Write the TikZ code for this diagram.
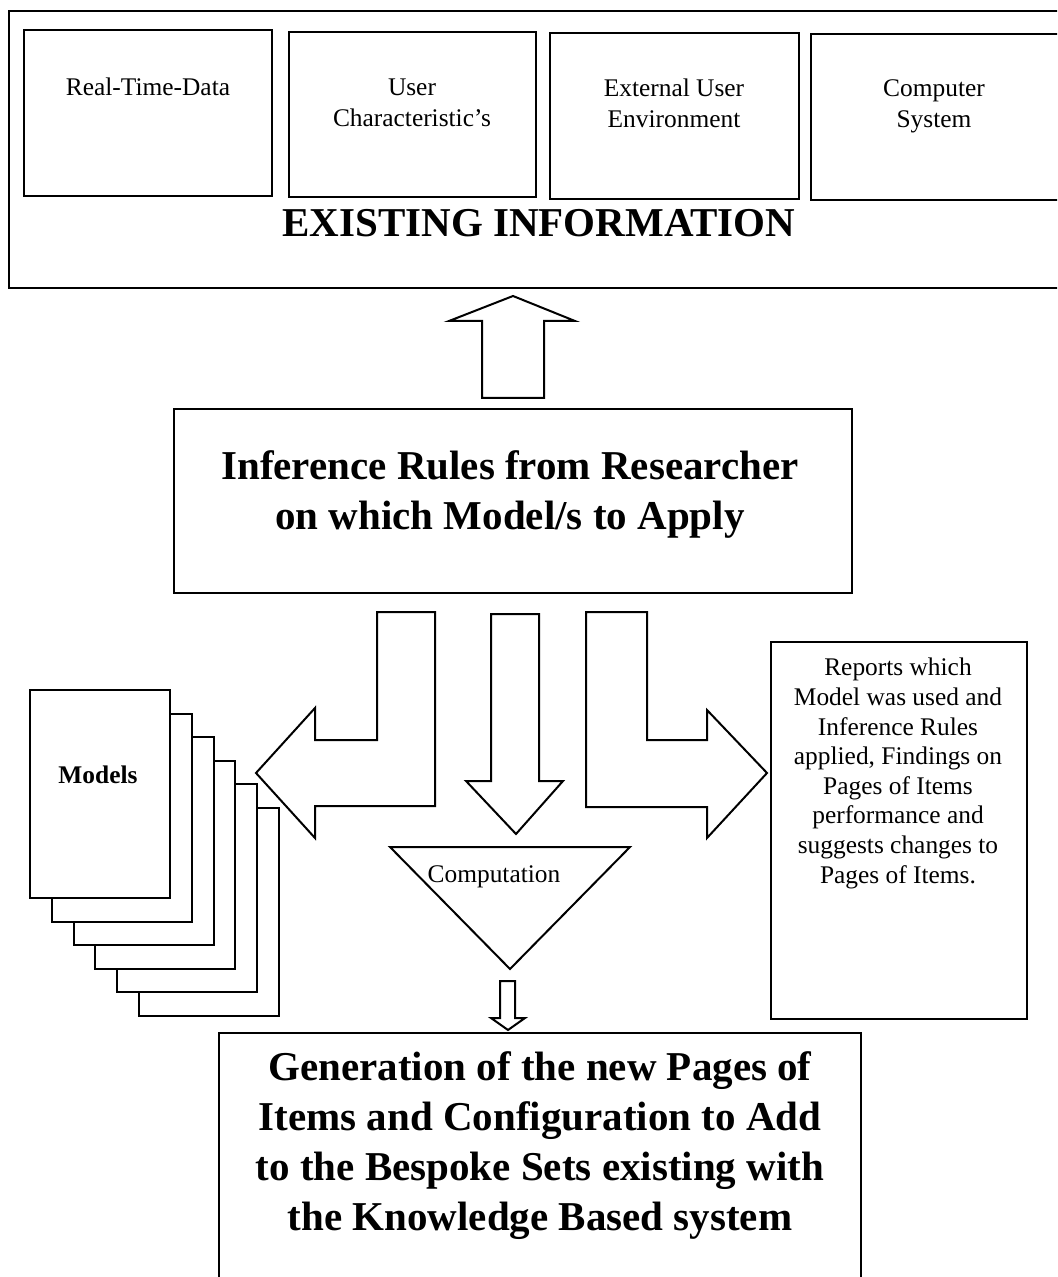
\documentclass[tikz,border=0pt]{standalone}
\usepackage{fontspec}
\setmainfont{Liberation Serif}
\usepackage{tikz}

\begin{document}
\begin{tikzpicture}[x=0.5pt,y=-0.5pt,
  outline/.style={draw=black, line width=1pt, line join=miter},
  page/.style={outline, fill=white},
  smalltext/.style={font=\fontsize{12.7}{15.5}\selectfont, align=center, anchor=base, inner sep=0pt},
  reporttext/.style={font=\fontsize{12.7}{14.8}\selectfont, align=center, anchor=base, inner sep=0pt},
  bigtext/.style={font=\bfseries\fontsize{20.5}{25}\selectfont, align=center, anchor=base, inner sep=0pt}]
\clip (0,0) rectangle (1057,1277);
\fill[white] (0,0) rectangle (1057,1277);
\draw[outline] (9,11) rectangle (1070,288);
\draw[outline] (24,30) rectangle (272,196);
\draw[outline] (289,32) rectangle (536,197);
\draw[outline] (550,33) rectangle (799,199);
\draw[outline] (811,34) rectangle (1062,200);
% multi-line nodes sit on the baseline of their last line
\node[smalltext] (rtdata) at (148,96) {Real-Time-Data};
\node[smalltext] (userchar) at (412,127) {User\\Characteristic's};
\node[smalltext] (extenv) at (674,128) {External User\\Environment};
\node[smalltext] (compsys) at (934,128) {Computer\\System};
\node[bigtext] (existing) at (539,237) {EXISTING INFORMATION};
\draw[outline] (482,398) -- (482,321) -- (449,321) -- (513,296) -- (575,321) -- (544,321) -- (544,398) -- cycle;
\draw[outline] (174,409) rectangle (852,593);
\node[bigtext] (inference) at (510,530) {Inference Rules from Researcher\\on which Model/s to Apply};
\draw[outline] (377,612) -- (435,612) -- (435,806) -- (315,806) -- (315,838) -- (256,773) -- (315,708) -- (315,740) -- (377,740) -- cycle;
\draw[outline] (491,614) -- (539,614) -- (539,781) -- (563,781) -- (516,834) -- (466,781) -- (491,781) -- cycle;
\draw[outline] (586,612) -- (647,612) -- (647,740) -- (707,740) -- (707,710) -- (767,773) -- (707,838) -- (707,807) -- (586,807) -- cycle;
\foreach \i in {5,4,...,0}
  \draw[page] ({30+21.8*\i},{690+23.6*\i}) rectangle ++(140,208);
\node[smalltext, font=\bfseries\fontsize{12.7}{15.5}\selectfont] (models) at (98,783) {Models};
\draw[outline] (390,847) -- (630,847) -- (510,969) -- cycle;
\node[smalltext] (computation) at (494,882) {Computation};
\draw[outline] (500,981) -- (515,981) -- (515,1018) -- (525,1018) -- (508,1030) -- (491,1018) -- (500,1018) -- cycle;
\draw[outline] (771,642) rectangle (1027,1019);
\node[reporttext] (reports) at (898,883) {Reports which\\Model was used and\\Inference Rules\\applied, Findings on\\Pages of Items\\performance and\\suggests changes to\\Pages of Items.};
\draw[outline] (219,1033) rectangle (861,1300);
\node[bigtext] (generation) at (540,1230) {Generation of the new Pages of\\Items and Configuration to Add\\to the Bespoke Sets existing with\\the Knowledge Based system};
\end{tikzpicture}
\end{document}
